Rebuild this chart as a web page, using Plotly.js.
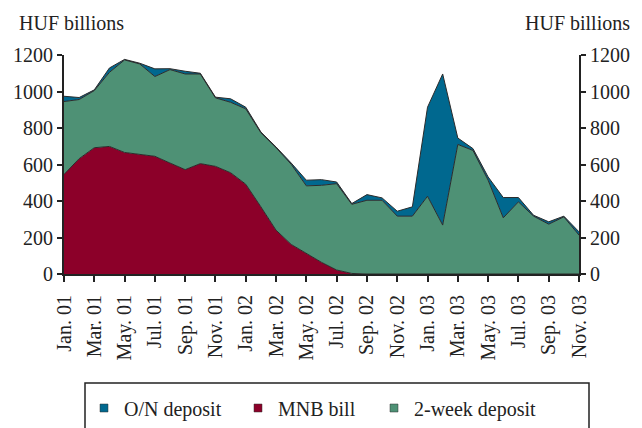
<!DOCTYPE html>
<html>
<head>
<meta charset="utf-8">
<script src="https://cdn.plot.ly/plotly-3.0.1.min.js"></script>
<style>
  html, body { margin: 0; padding: 0; background: #fff; }
  #chart { width: 642px; height: 428px; }
</style>
</head>
<body>
<div id="chart"></div>
<script>
// Monthly, Jan. 2001 - Nov. 2003 (HUF billions)
const months = [
  'Jan. 01', 'Feb. 01', 'Mar. 01', 'Apr. 01', 'May. 01', 'Jun. 01',
  'Jul. 01', 'Aug. 01', 'Sep. 01', 'Oct. 01', 'Nov. 01', 'Dec. 01',
  'Jan. 02', 'Feb. 02', 'Mar. 02', 'Apr. 02', 'May. 02', 'Jun. 02',
  'Jul. 02', 'Aug. 02', 'Sep. 02', 'Oct. 02', 'Nov. 02', 'Dec. 02',
  'Jan. 03', 'Feb. 03', 'Mar. 03', 'Apr. 03', 'May. 03', 'Jun. 03',
  'Jul. 03', 'Aug. 03', 'Sep. 03', 'Oct. 03', 'Nov. 03'
];

const mnbBill = [
  546, 632, 692, 699, 666, 657, 645, 608, 572, 605, 590, 555,
  492, 368, 240, 162, 113, 64, 22, 3, 0, 0, 0, 0,
  0, 0, 0, 0, 0, 0, 0, 0, 0, 0, 0
];

const twoWeekDeposit = [
  399, 324, 313, 406, 507, 494, 437, 512, 524, 491, 375, 386,
  413, 406, 452, 439, 370, 422, 473, 379, 404, 404, 317, 317,
  426, 268, 710, 677, 514, 308, 395, 317, 273, 313, 213
];

const onDeposit = [
  29, 11, 4, 24, 3, 4, 42, 5, 15, 4, 4, 19,
  9, 4, 4, 7, 31, 31, 9, 4, 31, 13, 27, 51,
  488, 828, 35, 10, 18, 111, 24, 5, 13, 4, 18
];

const tickLabels = months.filter((m, i) => i % 2 === 0);

const colors = {
  on: '#00688f',
  mnb: '#8c0029',
  twoWeek: '#4e9175'
};

const FONT = 'Liberation Serif, Times New Roman, serif';
const FS = 20;
const xIdx = months.map((_, i) => i);

function areaTrace(name, y, color) {
  return {
    type: 'scatter',
    mode: 'lines',
    name: name,
    x: xIdx,
    y: y,
    stackgroup: 'one',
    fillcolor: color,
    line: { color: '#2b2b2b', width: 1 },
    showlegend: false,
    hoverinfo: 'x+y+name'
  };
}

// legend-only entries with small square keys, one legend each
function keyTrace(name, color, legendId) {
  return {
    type: 'scatter',
    mode: 'markers',
    name: name,
    x: [null],
    y: [null],
    legend: legendId,
    marker: { symbol: 'square', size: 8, color: color, line: { color: '#333', width: 0.5 } },
    showlegend: true
  };
}

const traces = [
  areaTrace('MNB bill', mnbBill, colors.mnb),
  areaTrace('2-week deposit', twoWeekDeposit, colors.twoWeek),
  areaTrace('O/N deposit', onDeposit, colors.on),
  keyTrace('O/N deposit', colors.on, 'legend'),
  keyTrace('MNB bill', colors.mnb, 'legend2'),
  keyTrace('2-week deposit', colors.twoWeek, 'legend3'),
  // invisible trace to carry the right-hand axis
  { type: 'scatter', mode: 'lines', x: [0], y: [0], yaxis: 'y2', showlegend: false,
    line: { width: 0 }, hoverinfo: 'skip' }
];

function legendAt(px) {
  return {
    orientation: 'h',
    xref: 'container',
    yref: 'container',
    x: px / 642,
    xanchor: 'left',
    y: 20 / 428,
    yanchor: 'middle',
    font: { family: FONT, size: FS, color: '#222' },
    bgcolor: 'rgba(0,0,0,0)',
    itemclick: false
  };
}

const axisStyle = {
  ticks: 'outside',
  tickwidth: 2,
  tickcolor: '#222',
  showline: true,
  linecolor: '#222',
  linewidth: 2,
  showgrid: false,
  zeroline: false,
  automargin: false,
  tickfont: { family: FONT, size: FS, color: '#222' }
};

const layout = {
  width: 642,
  height: 428,
  margin: { l: 64, r: 63, t: 55, b: 154, pad: 0 },
  paper_bgcolor: '#fff',
  plot_bgcolor: '#fff',
  font: { family: FONT, size: FS, color: '#222' },
  showlegend: true,
  xaxis: Object.assign({}, axisStyle, {
    range: [0, 34],
    tickmode: 'array',
    tickvals: xIdx.filter(i => i % 2 === 0),
    ticktext: tickLabels,
    tickangle: -90,
    ticklen: 6,
    ticklabelstandoff: 5
  }),
  yaxis: Object.assign({}, axisStyle, {
    range: [0, 1200],
    dtick: 200,
    ticklen: 5
  }),
  yaxis2: Object.assign({}, axisStyle, {
    overlaying: 'y',
    side: 'right',
    range: [0, 1200],
    dtick: 200,
    ticklen: 5
  }),
  legend: legendAt(84),
  legend2: legendAt(238),
  legend3: legendAt(374),
  shapes: [{
    type: 'rect',
    xref: 'paper', yref: 'paper',
    x0: 21 / 515, x1: 525 / 515,
    y0: -166 / 219, y1: -109 / 219,
    line: { color: '#222', width: 1.5 }
  }],
  annotations: [
    { text: 'HUF billions', xref: 'paper', yref: 'paper', x: -47 / 515, y: 1 + 19 / 219,
      xanchor: 'left', yanchor: 'bottom', showarrow: false,
      font: { family: FONT, size: FS, color: '#222' } },
    { text: 'HUF billions', xref: 'paper', yref: 'paper', x: 568 / 515, y: 1 + 19 / 219,
      xanchor: 'right', yanchor: 'bottom', showarrow: false,
      font: { family: FONT, size: FS, color: '#222' } }
  ]
};

Plotly.newPlot('chart', traces, layout, { displayModeBar: false, staticPlot: true });
</script>
</body>
</html>
